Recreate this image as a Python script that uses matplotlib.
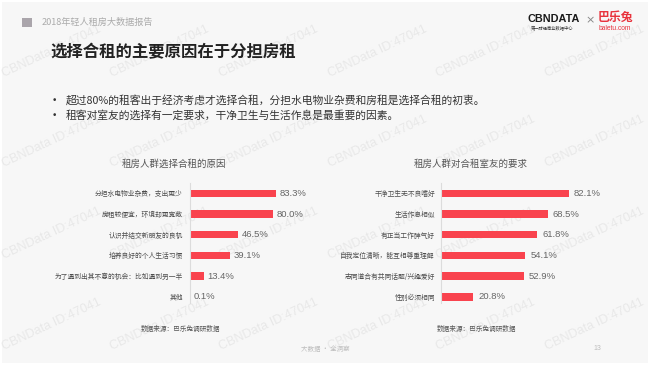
import matplotlib
matplotlib.use("Agg")
import matplotlib.pyplot as plt
from matplotlib.patches import Rectangle

plt.rcParams['font.family'] = ['Noto Sans CJK SC', 'DejaVu Sans']

# ---------------- data ----------------
header_text = "2018年轻人租房大数据报告"
page_title = "选择合租的主要原因在于分担房租"
bullets = [
    "超过80%的租客出于经济考虑才选择合租，分担水电物业杂费和房租是选择合租的初衷。",
    "租客对室友的选择有一定要求，干净卫生与生活作息是最重要的因素。",
]

left_title = "租房人群选择合租的原因"
left_cats = ["分担水电物业杂费，支出更少", "房租较便宜，环境却更宽敞", "认识并结交新朋友的良机",
             "培养良好的个人生活习惯", "为了遇到出其不意的机会：比如遇到另一半", "其他"]
left_vals = [83.3, 80.0, 46.5, 39.1, 13.4, 0.1]

right_title = "租房人群对合租室友的要求"
right_cats = ["干净卫生无不良嗜好", "生活作息相似", "有正当工作脾气好",
              "自我定位清晰，能互相尊重理解", "志同道合有共同话题/兴趣爱好", "性别必须相同"]
right_vals = [82.1, 68.5, 61.8, 54.1, 52.9, 20.8]

source_text = "数据来源：巴乐兔调研数据"
footer_text = "大数据 · 全洞察"
page_no = "13"
watermark = "CBNData ID:47041"

# ---------------- style ----------------
W, H = 650, 365
RED = "#f9434e"
BG = "#f7f7f7"

fig = plt.figure(figsize=(W / 100, H / 100), dpi=100)
fig.patch.set_facecolor("white")


def fx(x):
    return x / W


def fy(y):
    return 1 - y / H


# background panel
fig.patches.append(Rectangle((fx(2), fy(363)), fx(646), 361 / H, transform=fig.transFigure,
                             facecolor=BG, edgecolor="none", zorder=-10))

# watermarks
wm_xs = [4, 112, 221, 330, 438, 547]
wm_ys = [77, 167, 259, 350]
for wy in wm_ys:
    for wx in wm_xs:
        fig.text(fx(wx), fy(wy), watermark, family="Liberation Sans", fontsize=9.1,
                 color="#e8e8e8", rotation=25, rotation_mode="anchor",
                 ha="left", va="baseline", zorder=-5)

# header
fig.patches.append(Rectangle((fx(22), fy(27)), 10 / W, 9 / H, transform=fig.transFigure,
                             facecolor="#aaa5ab", edgecolor="none"))
fig.text(fx(42), fy(22.5), header_text, fontsize=6.6, color="#ababab", ha="left", va="center")

# logos
fig.text(fx(528), fy(18.5), "CBNDATA", family="Liberation Sans", fontweight="bold",
         fontsize=7.8, color="#1a1a1a", ha="left", va="center")
fig.text(fx(552), fy(27.5), "第一财经商业数据中心", fontsize=3.1, color="#333333",
         ha="center", va="center")
fig.text(fx(590), fy(20), "×", family="DejaVu Sans", fontsize=8, color="#888888",
         ha="center", va="center")
fig.text(fx(615), fy(17.5), "巴乐兔", fontsize=8.6, fontweight="bold", color="#e8333d",
         ha="center", va="center")
fig.text(fx(615), fy(28), "baletu.com", family="Liberation Sans", fontsize=4.8,
         color="#e8333d", ha="center", va="center")

# title
fig.text(fx(50), fy(52), page_title, fontsize=11.8, fontweight="bold", color="#222222",
         ha="left", va="center")

# bullets
for i, b in enumerate(bullets):
    yy = 100.5 + i * 15
    fig.text(fx(52), fy(yy), "•", family="DejaVu Sans", fontsize=6.5, color="#333333",
             ha="left", va="center")
    fig.text(fx(66), fy(yy), b, fontsize=7.75, color="#333333", ha="left", va="center")


def make_chart(x0, xscale, cats, vals, title, title_cx, pad_lbl, pad_val):
    ax = fig.add_axes([fx(x0), fy(303), xscale * 100 / W, 120 / H])
    ax.set_facecolor("none")
    ys = list(range(len(cats)))
    ax.barh(ys, vals, height=0.36, color=RED)
    ax.set_xlim(0, 100)
    ax.set_ylim(5.3, -0.5)
    ax.set_yticks(ys)
    ax.set_yticklabels(cats, fontsize=4.9, color="#4d4d4d")
    ax.tick_params(axis="y", length=0, pad=pad_lbl)
    ax.set_xticks([])
    for s in ["top", "right", "bottom"]:
        ax.spines[s].set_visible(False)
    ax.spines["left"].set_color("#dcdcdc")
    ax.spines["left"].set_linewidth(0.8)
    for y, v in zip(ys, vals):
        ax.annotate(f"{v:.1f}%", (v, y), xytext=(pad_val, 0), textcoords="offset points",
                    fontsize=6.8, color="#666666", ha="left", va="center",
                    family=["Liberation Sans", "Noto Sans CJK SC"])
    fig.text(fx(title_cx), fy(164), title, fontsize=6.8, color="#555555",
             ha="center", va="center")
    fig.text(fx(title_cx + 6), fy(329), source_text, fontsize=4.8, color="#555555",
             ha="center", va="center")
    return ax


make_chart(190, 1.035, left_cats, left_vals, left_title, 174.5, 5.2, 2.6)
make_chart(441, 1.56, right_cats, right_vals, right_title, 471, 4.4, 3.6)

# footer
fig.text(fx(325.5), fy(348.5), footer_text, fontsize=4.7, color="#bdbdbd", ha="center", va="center")
fig.text(fx(597.5), fy(348), page_no, family="Liberation Sans", fontsize=5.0, color="#bdbdbd",
         ha="center", va="center")

fig.savefig("out.png", dpi=100, facecolor=fig.get_facecolor())
